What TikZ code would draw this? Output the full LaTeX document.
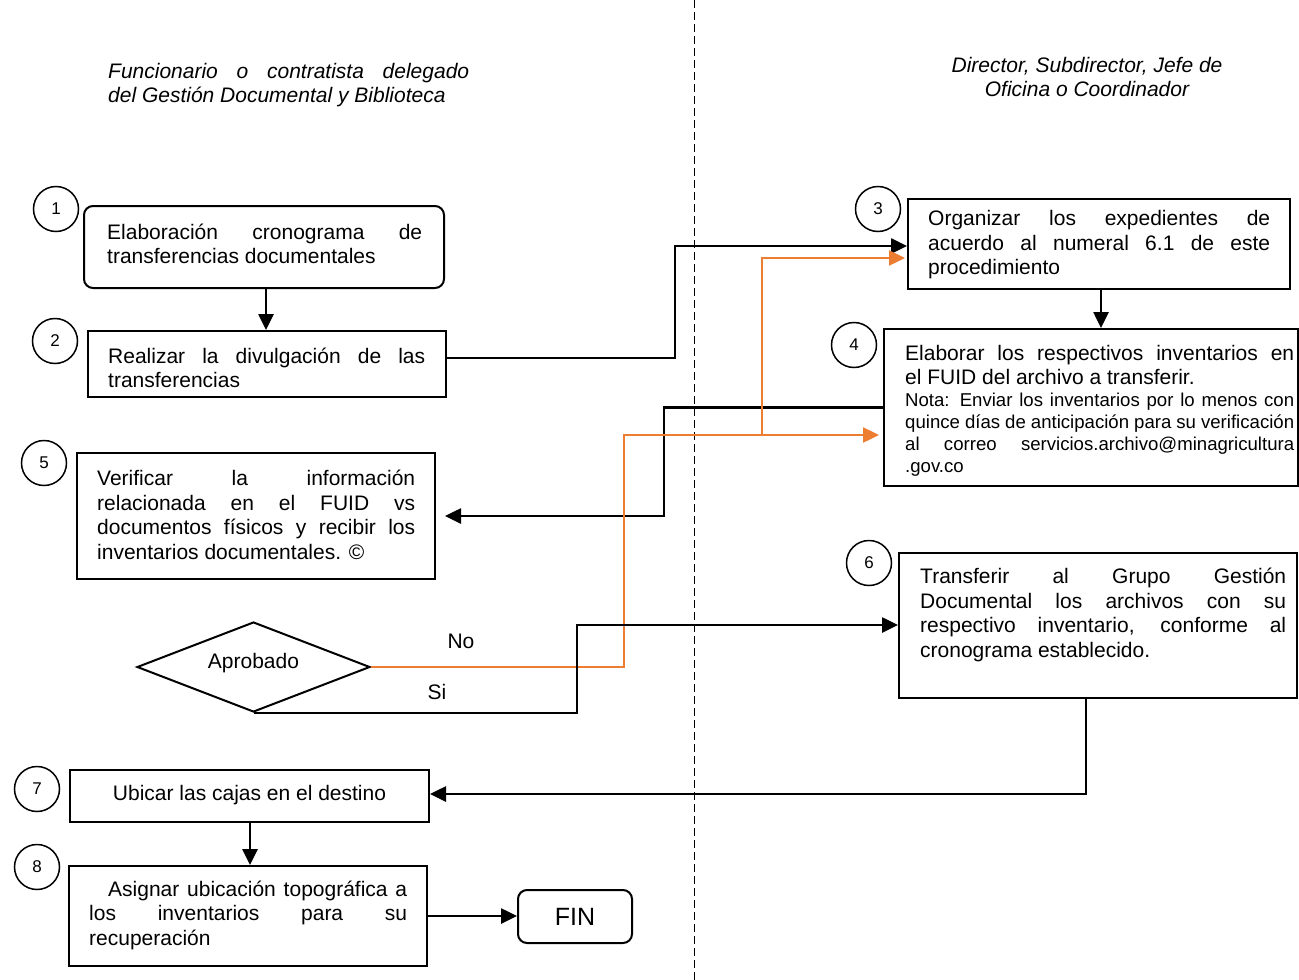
\documentclass[tikz,border=0pt]{standalone}
\usepackage{fontspec}
\setmainfont{Liberation Sans}
\usetikzlibrary{arrows.meta,shapes.geometric}
\definecolor{orng}{RGB}{237,125,49}
\newcommand\bigf{\fontsize{21}{24.5}\selectfont}
\newcommand\notef{\fontsize{18.6}{22}\selectfont}
\tolerance=10000
\hyphenpenalty=10000
\begin{document}
\begin{tikzpicture}[x=1pt,y=-1pt,
  box/.style={draw, line width=2pt, inner sep=0pt},
  rbox/.style={box, rounded corners=9pt},
  txt/.style={inner sep=0pt, align=justify, font=\bigf, anchor=west},
  num/.style={draw, circle, line width=1.5pt, minimum size=45pt, inner sep=0pt, font=\fontsize{17}{19}\selectfont},
  conn/.style={line width=2.6pt, -{Triangle[length=16pt,width=15pt]}},
  oconn/.style={line width=2.4pt, draw=orng, -{Triangle[length=16pt,width=15pt,fill=orng]}},
  lbl/.style={inner sep=0pt, font=\bigf}]
\useasboundingbox (0,0) rectangle (1299,980);
\fill[white] (0,0) rectangle (1299,980);

% lane separator
\draw[line width=1pt, dash pattern=on 8pt off 4pt] (694,0) -- (694,980);

% headers
\node[txt, text width=361pt, font=\bigf\itshape] (hL) at (108,85) {Funcionario o contratista delegado\linebreak del Gestión Documental y Biblioteca};
\node[lbl, align=center, font=\bigf\itshape] (hR) at (1087,77) {Director, Subdirector, Jefe de\\Oficina o Coordinador};

% boxes
\node[rbox, minimum width=360pt, minimum height=82pt] (b1) at (264,247) {};
\node[txt, text width=315pt] (t1) at (107,244) {Elaboración cronograma de\linebreak transferencias documentales};

\node[box, minimum width=358pt, minimum height=66pt] (b2) at (267,364) {};
\node[txt, text width=317pt] (t2) at (108,368) {Realizar la divulgación de las\linebreak transferencias};

\node[box, minimum width=382pt, minimum height=90pt] (b3) at (1099,244) {};
\node[txt, text width=342pt] (t3) at (928,245) {Organizar los expedientes de\linebreak acuerdo al numeral 6.1 de este\linebreak procedimiento};

\node[box, minimum width=414pt, minimum height=157pt] (b4) at (1091,407.5) {};
\node[txt, text width=389pt] (t4) at (905,411) {Elaborar los respectivos inventarios en\linebreak el FUID del archivo a transferir.\par
{\notef Nota: Enviar los inventarios por lo menos con\linebreak quince días de anticipación para su verificación\linebreak al correo servicios.archivo@minagricultura\linebreak .gov.co\par}};

\node[box, minimum width=358pt, minimum height=126pt] (b5) at (256,516) {};
\node[txt, text width=318pt] (t5) at (97,515) {Verificar la información\linebreak relacionada en el FUID vs\linebreak documentos físicos y recibir los\linebreak inventarios documentales. ©};

\node[draw, diamond, line width=2pt, minimum width=233pt, minimum height=90pt, inner sep=0pt] (d) at (253.5,667) {};
\node[lbl] (td) at (253.5,663) {Aprobado};

\node[box, minimum width=398pt, minimum height=145pt] (b6) at (1098,625.5) {};
\node[txt, text width=366pt] (t6) at (920,615) {Transferir al Grupo Gestión\linebreak Documental los archivos con su\linebreak respectivo inventario, conforme al\linebreak cronograma establecido.};

\node[box, minimum width=359pt, minimum height=52pt] (b7) at (249.5,796) {};
\node[lbl] (t7) at (249.5,795) {Ubicar las cajas en el destino};

\node[box, minimum width=358pt, minimum height=100pt] (b8) at (248,916) {};
\node[txt, text width=318pt] (t8) at (89,915) {\hspace*{19pt}Asignar ubicación topográfica a\linebreak los inventarios para su\linebreak recuperación};

\node[rbox, minimum width=114pt, minimum height=53pt, font=\fontsize{25}{28}\selectfont] (fin) at (575,916.5) {FIN};

% step numbers
\node[num] (c1) at (56,209) {1};
\node[num] (c2) at (55,341) {2};
\node[num] (c3) at (878,209) {3};
\node[num] (c4) at (854,345) {4};
\node[num] (c5) at (44,463) {5};
\node[num] (c6) at (869,563) {6};
\node[num] (c7) at (37,789) {7};
\node[num] (c8) at (37,867) {8};

% connectors
\draw[conn] (b1.south -| 266,0) -- (b2.north -| 266,0);
\draw[conn] (b2.east |- 0,358) -- (675,358) -- (675,246) -- (b3.west |- 0,246);
\draw[conn] (b3.south -| 1101,0) -- (b4.north -| 1101,0);
\draw[conn] (b4.west) -| (664,516) -- ([xshift=9pt]b5.east |- 0,516);
\coordinate (o1) at (624,435);
\coordinate (o2) at (762,435);
\draw[oconn, shorten >=4pt] (d.east) -| (o1) -- (b4.west |- o1);
\draw[oconn, shorten >=2pt] (o2) |- (b3.west |- 0,258);
\draw[conn] (d.south) -| (577,625) -- (b6.west |- 0,625);
\draw[conn] (b6.south -| 1086,0) |- (b7.east |- 0,794);
\draw[conn] (b7.south -| 250,0) -- (b8.north -| 250,0);
\draw[conn] (b8.east) -- (fin.west |- b8.east);

\node[lbl] (lNo) at (461,641) {No};
\node[lbl] (lSi) at (437,692) {Si};
\end{tikzpicture}
\end{document}
